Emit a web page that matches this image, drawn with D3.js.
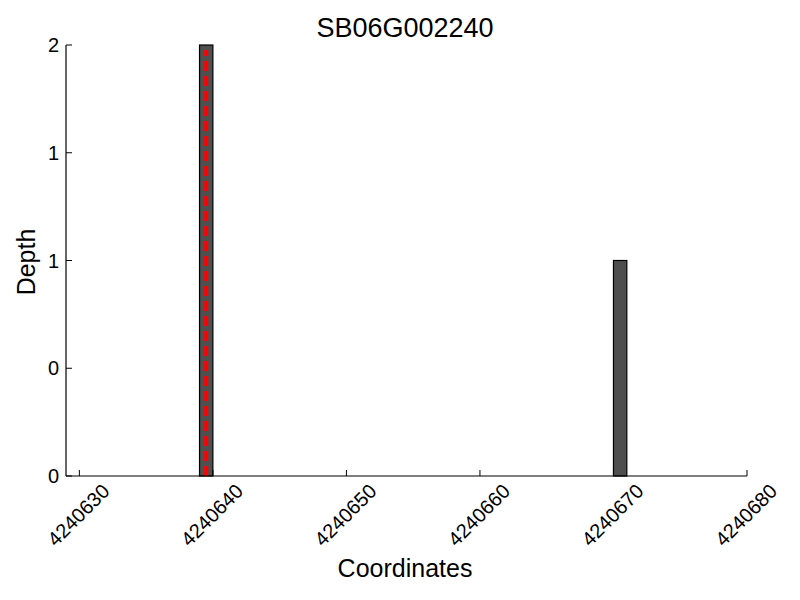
<!DOCTYPE html>
<html lang="en">
<head>
    <meta charset="UTF-8">
    <title>SB06G002240</title>
    <style>
        body { margin: 0; background: #fff; }
        text { font-family: "Liberation Sans", Arial, sans-serif; fill: #000; }
    </style>
</head>
<body>
    <svg width="800" height="600"></svg>

    <script src="https://d3js.org/d3.v7.min.js"></script>
    <script>
        // read depth per coordinate (bar start, bar end, depth)
        var barStarts = [4240639, 4240670],
            barEnds = [4240640, 4240671],
            depths = [2, 1];
        var markerPos = [4240639.5];   // red dashed line
        var xTicks = [4240630, 4240640, 4240650, 4240660, 4240670, 4240680];
        var yTicks = [0, 0.5, 1, 1.5, 2];
        var title = 'SB06G002240';

        var svg = d3.select('svg');

        var plotLeft = 66, plotRight = 747, plotTop = 45, plotBottom = 476;

        var x = d3.scaleLinear().domain([4240629, 4240680]).range([plotLeft, plotRight]);
        var y = d3.scaleLinear().domain([0, 2]).range([plotBottom, plotTop]);

        // bars
        svg.selectAll('rect.bar')
            .data(depths)
            .enter().append('rect')
            .attr('class', 'bar')
            .attr('x', function(d, i) { return x(barStarts[i]); })
            .attr('width', function(d, i) { return x(barEnds[i]) - x(barStarts[i]); })
            .attr('y', function(d) { return y(d); })
            .attr('height', function(d) { return y(0) - y(d); })
            .attr('fill', '#4f4f4f')
            .attr('stroke', '#000')
            .attr('stroke-width', 1.2);

        // red dashed marker
        svg.selectAll('line.marker')
            .data(markerPos)
            .enter().append('line')
            .attr('x1', function(d) { return x(d); })
            .attr('x2', function(d) { return x(d); })
            .attr('y1', y(0))
            .attr('y2', y(2) + 5)
            .attr('stroke', '#ff0000')
            .attr('stroke-width', 4)
            .attr('stroke-dasharray', '10,5');

        // spines
        svg.append('line')
            .attr('x1', plotLeft).attr('x2', plotLeft)
            .attr('y1', plotTop).attr('y2', plotBottom)
            .attr('stroke', '#000').attr('stroke-width', 1.2);
        svg.append('line')
            .attr('x1', plotLeft).attr('x2', plotRight)
            .attr('y1', plotBottom).attr('y2', plotBottom)
            .attr('stroke', '#000').attr('stroke-width', 1.2);

        // x ticks (inward) and rotated labels
        var xg = svg.append('g');
        xg.selectAll('line')
            .data(xTicks)
            .enter().append('line')
            .attr('x1', function(d) { return x(d); })
            .attr('x2', function(d) { return x(d); })
            .attr('y1', plotBottom).attr('y2', plotBottom - 6)
            .attr('stroke', '#000');
        xg.selectAll('text')
            .data(xTicks)
            .enter().append('text')
            .attr('transform', function(d) { return 'translate(' + (x(d) - 1) + ',' + 515 + ') rotate(-45)'; })
            .attr('text-anchor', 'middle')
            .attr('dominant-baseline', 'central')
            .style('font-size', '20px')
            .text(function(d) { return d; });

        // y ticks (inward) and labels
        var yg = svg.append('g');
        yg.selectAll('line')
            .data(yTicks)
            .enter().append('line')
            .attr('x1', plotLeft).attr('x2', plotLeft + 6)
            .attr('y1', function(d) { return y(d); })
            .attr('y2', function(d) { return y(d); })
            .attr('stroke', '#000');
        yg.selectAll('text')
            .data(yTicks)
            .enter().append('text')
            .attr('x', 59)
            .attr('y', function(d) { return y(d) + 7; })
            .attr('text-anchor', 'end')
            .style('font-size', '20px')
            .text(function(d) { return Math.floor(d); });

        // title and axis labels
        svg.append('text')
            .attr('x', 405)
            .attr('y', 37)
            .attr('text-anchor', 'middle')
            .style('font-size', '27px')
            .text(title);

        svg.append('text')
            .attr('x', 405)
            .attr('y', 577)
            .attr('text-anchor', 'middle')
            .style('font-size', '25px')
            .text('Coordinates');

        svg.append('text')
            .attr('transform', 'translate(35,' + 262 + ') rotate(-90)')
            .attr('text-anchor', 'middle')
            .style('font-size', '25px')
            .text('Depth');
    </script>
</body>
</html>
